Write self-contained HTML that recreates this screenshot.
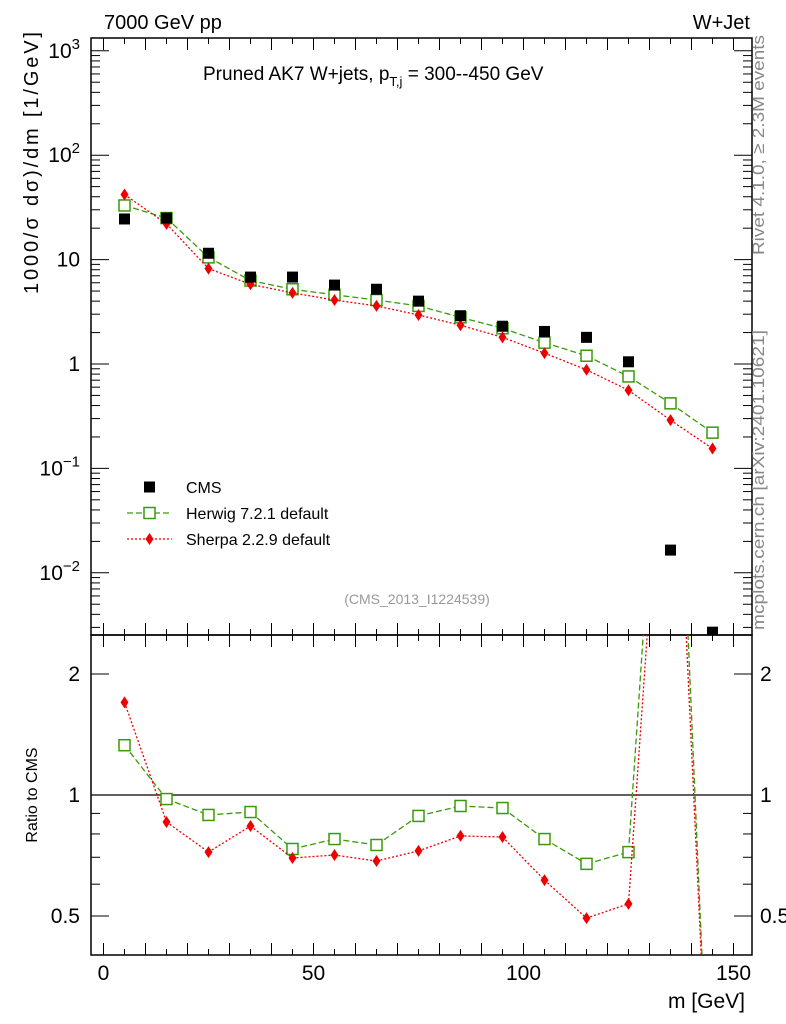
<!DOCTYPE html>
<html><head><meta charset="utf-8"><style>
body{margin:0;background:#fff;overflow:hidden}
svg{font-family:"Liberation Sans",sans-serif;display:block}
</style></head><body>
<svg id="c" width="786" height="1024" xmlns="http://www.w3.org/2000/svg"></svg>
<script>
const masses=[5,15,25,35,45,55,65,75,85,95,105,115,125,135,145];
const cmsVals=[24.5,25,11.5,6.8,6.8,5.7,5.2,4.0,2.9,2.3,2.05,1.8,1.05,0.0165,0.0027];
const herwigVals=[33,25,10.5,6.3,5.2,4.6,4.1,3.6,2.8,2.2,1.6,1.2,0.76,0.42,0.22];
const sherpaVals=[42,22,8.2,5.8,4.8,4.1,3.6,2.95,2.35,1.8,1.27,0.88,0.56,0.29,0.155];
const herwigRatio=[1.33,0.977,0.892,0.907,0.734,0.777,0.751,0.887,0.939,0.928,0.777,0.674,0.721,25,0.1];
const sherpaRatio=[1.70,0.857,0.721,0.837,0.697,0.709,0.685,0.726,0.791,0.786,0.614,0.494,0.536,17,0.1];
const xTicks=[0,50,100,150];
const yExp=[3,2,1,0,-1,-2];
const rTicks=[2,1,0.5];

const NS="http://www.w3.org/2000/svg";
const svg=document.getElementById('c');
function el(t,a,p){const e=document.createElementNS(NS,t);for(const k in a)e.setAttribute(k,a[k]);(p||svg).appendChild(e);return e;}
const L=91,R=752,T=38,M=635,B=955;
const X=v=>103.5+4.2*v;
const Y=v=>364-104.4*Math.log10(v);
const YR=v=>795-121*Math.log2(v);

const defs=el('defs',{});
const c1=el('clipPath',{id:'cm'},defs);el('rect',{x:L,y:T,width:R-L,height:M-T},c1);
const c2=el('clipPath',{id:'cr'},defs);el('rect',{x:L,y:M,width:R-L,height:B-M},c2);

const f1=el('rect',{x:L,y:T,width:R-L,height:M-T,fill:'none',stroke:'#000','stroke-width':1.5});

const f2=el('rect',{x:L,y:M,width:R-L,height:B-M,fill:'none',stroke:'#000','stroke-width':1.5});


for(let v=0;v<=150;v+=5){
  const major=v%10===0, len=major?12:6;
  for(const [y0,d] of [[T,1],[M,-1],[M,1],[B,-1]]){
    el('line',{x1:X(v),x2:X(v),y1:y0,y2:y0+d*len,stroke:'#000','stroke-width':1});
  }
}
xTicks.forEach(v=>{const t=el('text',{x:X(v),y:980,'font-size':21,'text-anchor':'middle'});t.textContent=v;
});
const xt=el('text',{x:745,y:1008,'font-size':21,'text-anchor':'end'});xt.textContent='m [GeV]';


for(let e=-3;e<=3;e++){for(let k=1;k<10;k++){const v=k*Math.pow(10,e);const y=Y(v);if(y<T||y>M)continue;
  const len=k===1?18:9;
  el('line',{x1:L,x2:L+len,y1:y,y2:y,stroke:'#000'});el('line',{x1:R,x2:R-len,y1:y,y2:y,stroke:'#000'});}}
yExp.forEach(e=>{const y=Y(Math.pow(10,e));const t=el('text',{x:80,y:y+7,'font-size':21,'text-anchor':'end'});
 if(e===0)t.textContent='1';else if(e===1)t.textContent='10';else{t.textContent='10';const s=el('tspan',{dy:-9,'font-size':15},t);s.textContent=(e<0?'\u2212':'')+Math.abs(e);}
 });
const yt=el('text',{transform:'translate(38,163) rotate(-90)','font-size':20,'text-anchor':'middle',textLength:262,lengthAdjust:'spacing'});yt.textContent='1000/\u03c3   d\u03c3)/dm [1/GeV]';


[0.5,0.6,0.7,0.8,0.9,1,2].forEach(v=>{const y=YR(v);const len=(v===1||v===2||v===0.5)?18:9;
 el('line',{x1:L,x2:L+len,y1:y,y2:y,stroke:'#000'});el('line',{x1:R,x2:R-len,y1:y,y2:y,stroke:'#000'});});
rTicks.forEach(v=>{const y=YR(v);
 const t=el('text',{x:80,y:y+7,'font-size':21,'text-anchor':'end'});t.textContent=v;
 
 const t2=el('text',{x:760,y:y+7,'font-size':21});t2.textContent=v;
 });
el('line',{x1:L,x2:R,y1:YR(1),y2:YR(1),stroke:'#000','stroke-width':1.2});
const rt=el('text',{transform:'translate(37,795) rotate(-90)','font-size':16,'text-anchor':'middle'});rt.textContent='Ratio to CMS';


// clip a segment to y range [y0,y1] keeping its slope
function clipSeg(ax,ay,bx,by,y0,y1){
  let t0=0,t1=1;const dy=by-ay;
  if(dy===0){if(ay<y0||ay>y1)return null;}
  else{let ta=(y0-ay)/dy,tb=(y1-ay)/dy;if(ta>tb)[ta,tb]=[tb,ta];t0=Math.max(t0,ta);t1=Math.min(t1,tb);if(t0>t1)return null;}
  return [ax+(bx-ax)*t0,ay+dy*t0,ax+(bx-ax)*t1,ay+dy*t1];
}
function series(vals,yf,clip,y0,y1,color,dash,marker,name){
  const g=el('g',{'clip-path':'url(#'+clip+')'});
  
  let d='';
  for(let i=0;i<masses.length-1;i++){
    const s=clipSeg(X(masses[i]),yf(vals[i]),X(masses[i+1]),yf(vals[i+1]),y0,y1);
    if(s)d+=`M${s[0]},${s[1]}L${s[2]},${s[3]}`;
  }
  el('path',{d,fill:'none',stroke:color,'stroke-width':1.3,'stroke-dasharray':dash},g);
  masses.forEach((m,i)=>{const x=X(m),y=yf(vals[i]);if(y<y0||y>y1)return;
    if(marker==='sq')el('rect',{x:x-5.5,y:y-5.5,width:11,height:11,fill:'#fff',stroke:color,'stroke-width':1.5},g);
    else el('polygon',{points:`${x},${y-6} ${x+4},${y} ${x},${y+6} ${x-4},${y}`,fill:color},g);});
}
series(herwigVals,Y,'cm',T-10,M+10,'#3a9a0a','6,3','sq','herwig-series');
series(sherpaVals,Y,'cm',T-10,M+10,'#e00','2,2','di','sherpa-series');
const cg=el('g',{'clip-path':'url(#cm)'});
masses.forEach((m,i)=>{const y=Y(cmsVals[i]);if(y>M+10)return;el('rect',{x:X(m)-5.5,y:y-5.5,width:11,height:11,fill:'#000'},cg);});
series(herwigRatio,YR,'cr',M-10,B+10,'#3a9a0a','6,3','sq','herwig-ratio');
series(sherpaRatio,YR,'cr',M-10,B+10,'#e00','2,2','di','sherpa-ratio');

function lg(y,label,kind,color,dash,name){
  const g=el('g',{});
  if(dash)el('line',{x1:127,x2:172,y1:y,y2:y,stroke:color,'stroke-width':1.3,'stroke-dasharray':dash},g);
  if(kind==='cms')el('rect',{x:144,y:y-5.5,width:11,height:11,fill:'#000'},g);
  else if(kind==='sq')el('rect',{x:144,y:y-5.5,width:11,height:11,fill:'#fff',stroke:color,'stroke-width':1.5},g);
  else el('polygon',{points:`149.5,${y-6} 153.5,${y} 149.5,${y+6} 145.5,${y}`,fill:color},g);
  const t=el('text',{x:186,y:y+6,'font-size':16},g);t.textContent=label;
}
lg(487,'CMS','cms',null,null,'legend-entry-cms');
lg(513,'Herwig 7.2.1 default','sq','#3a9a0a','6,3','legend-entry-herwig');
lg(539,'Sherpa 2.2.9 default','di','#e00','2,2','legend-entry-sherpa');

function txt(x,y,s,size,attrs,name){const t=el('text',Object.assign({x,y,'font-size':size},attrs||{}));t.textContent=s;
 return t;}
txt(104,29,'7000 GeV pp',20,{},'energy-label');
txt(750,29,'W+Jet',20,{'text-anchor':'end'},'process-label');
const ti=txt(203,80,'Pruned AK7 W+jets, p',19,{},'plot-title');
const s1=el('tspan',{dy:6,'font-size':13},ti);s1.textContent='T,j';
const s2=el('tspan',{dy:-6},ti);s2.textContent=' = 300--450 GeV';
txt(417,604,'(CMS_2013_I1224539)',14,{'text-anchor':'middle',fill:'#999'},'analysis-id');
txt(0,0,'Rivet 4.1.0, \u2265 2.3M events',17,{transform:'translate(764,255) rotate(-90)',fill:'#888',textLength:220,lengthAdjust:'spacingAndGlyphs'},'rivet-label');
txt(0,0,'mcplots.cern.ch [arXiv:2401.10621]',17,{transform:'translate(764,630) rotate(-90)',fill:'#888',textLength:300,lengthAdjust:'spacingAndGlyphs'},'mcplots-label');
</script>
</body></html>
